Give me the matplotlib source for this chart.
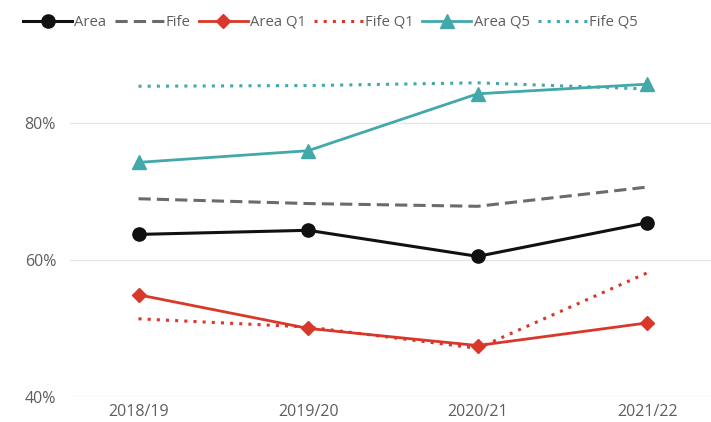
import matplotlib
matplotlib.use("Agg")
import matplotlib.pyplot as plt
from matplotlib.ticker import FuncFormatter

years = ["2018/19", "2019/20", "2020/21", "2021/22"]
area = [63.7, 64.3, 60.5, 65.4]
fife = [68.9, 68.2, 67.8, 70.6]
area_q1 = [54.9, 50.0, 47.5, 50.8]
fife_q1 = [51.4, 50.2, 47.1, 58.1]
area_q5 = [74.2, 75.9, 84.2, 85.6]
fife_q5 = [85.3, 85.4, 85.8, 84.9]
yticks = [40, 60, 80]

plt.rcParams['font.family'] = ['Open Sans', 'DejaVu Sans']

BLACK = "#111111"
GREY = "#6B6B6B"
RED = "#D9372A"
TEAL = "#42A8A9"
TXT = "#605E5C"

fig = plt.figure(figsize=(7.11, 4.22), dpi=100)
ax = fig.add_axes([70/711, 25/422, 641/711, 343/422])

x = list(range(len(years)))
ax.plot(x, area, color=BLACK, lw=2.2, marker='o', ms=9.5, label="Area", zorder=5)
ax.plot(x, fife, color=GREY, lw=2.2, ls=(0, (4, 2)), label="Fife", zorder=4)
ax.plot(x, area_q1, color=RED, lw=2.0, marker='D', ms=7, label="Area Q1", zorder=5)
ax.plot(x, fife_q1, color=RED, lw=2.2, ls=(0, (1, 2)), label="Fife Q1", zorder=4)
ax.plot(x, area_q5, color=TEAL, lw=2.0, marker='^', ms=9.5, label="Area Q5", zorder=5)
ax.plot(x, fife_q5, color=TEAL, lw=2.2, ls=(0, (1, 2)), label="Fife Q5", zorder=4)

ax.set_xlim(-0.404, 3.376)
ax.set_ylim(40, 90)
ax.set_xticks(x)
ax.set_xticklabels(years)
ax.set_yticks(yticks)
ax.yaxis.set_major_formatter(FuncFormatter(lambda v, p: f"{v:.0f}%"))
ax.tick_params(axis='both', length=0, colors=TXT, labelsize=11.5)
ax.tick_params(axis='y', pad=10)
ax.tick_params(axis='x', pad=5)
ax.grid(axis='y', color="#E6E6E6", lw=1)
ax.set_axisbelow(True)
for s in ax.spines.values():
    s.set_visible(False)

leg = fig.legend(loc='upper left', bbox_to_anchor=(23/711, 1 - 15/422), ncol=6,
                 frameon=False, fontsize=10.7, handlelength=3.3, handletextpad=0.15,
                 columnspacing=0.55, borderpad=0, borderaxespad=0)
for t in leg.get_texts():
    t.set_color(TXT)

fig.savefig("out.png", dpi=100)
